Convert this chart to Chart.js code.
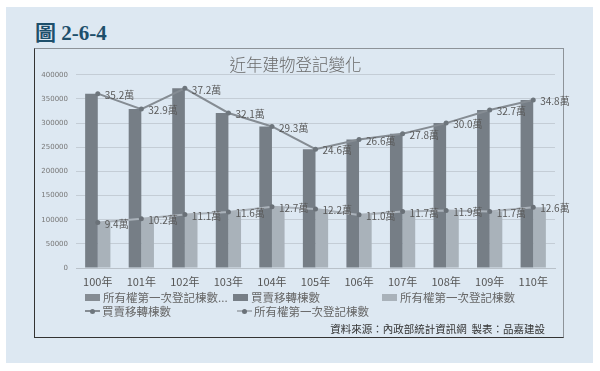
<!DOCTYPE html>
<html><head><meta charset="utf-8">
<script src="https://cdn.jsdelivr.net/npm/chart.js@4"></script>
<style>
html,body{margin:0;padding:0;background:#fff;width:600px;height:371px;overflow:hidden;font-family:"Noto Sans CJK TC","Noto Sans",sans-serif;}
#panel{position:absolute;left:6px;top:7px;width:587px;height:356px;background:#dde8f2;}
#fig{position:absolute;left:35px;top:16px;font-weight:bold;font-size:21px;font-family:"Liberation Serif","Noto Sans CJK TC",serif;color:#1e4f6b;white-space:nowrap;}
#frame{position:absolute;left:34px;top:48px;width:528px;height:288px;border:1px solid #333;border-top-color:#8d9399;border-right-color:#8d9399;}
#wrap{position:absolute;left:0;top:0;width:600px;height:371px;}
.lg{position:absolute;font-size:11.5px;color:#666;white-space:nowrap;line-height:14px;display:flex;align-items:center;}
.sw{display:inline-block;width:15px;height:7px;margin-right:3px;}
.lm{display:inline-block;position:relative;width:15px;height:8px;margin-right:2px;}
.lm .ln{position:absolute;left:0;right:0;top:3px;height:2px;}
.lm .dt{position:absolute;left:5px;top:1.5px;width:5px;height:5px;border-radius:50%;}
#src{position:absolute;right:55px;top:321px;font-size:10.5px;color:#333;white-space:nowrap;}
</style></head>
<body>
<div id="panel"></div>
<div id="fig">圖 2-6-4</div>
<div id="frame"></div>
<div id="wrap"><canvas id="c" width="600" height="371"></canvas></div>
<div id="legend"></div>
<div id="src">資料來源：內政部統計資訊網&nbsp;&nbsp;製表：品嘉建設</div>
<script>
const categories = ['100年','101年','102年','103年','104年','105年','106年','107年','108年','109年','110年'];
const buySell = [361000,329000,372000,321000,293000,246000,266000,278000,300000,327000,348000];
const firstReg = [94000,102000,111000,116000,127000,122000,110000,117000,119000,117000,126000];
const emptySeries = [null,null,null,null,null,null,null,null,null,null,null];
const buySellLabels = ['35.2萬','32.9萬','37.2萬','32.1萬','29.3萬','24.6萬','26.6萬','27.8萬','30.0萬','32.7萬','34.8萬'];
const firstRegLabels = ['9.4萬','10.2萬','11.1萬','11.6萬','12.7萬','12.2萬','11.0萬','11.7萬','11.9萬','11.7萬','12.6萬'];
const yTicks = [0,50000,100000,150000,200000,250000,300000,350000,400000];

const labelPlugin = {
  id:'pointLabels',
  afterDatasetsDraw(chart){
    const ctx = chart.ctx;
    [[3,buySellLabels],[4,firstRegLabels]].forEach(([di,labels])=>{
      const meta = chart.getDatasetMeta(di);
      ctx.save();
      ctx.font = '10px "Noto Sans CJK TC", sans-serif';
      ctx.fillStyle = '#595959';
      ctx.textBaseline = 'middle';
      ctx.textAlign = 'left';
      meta.data.forEach((pt,i)=>ctx.fillText(labels[i], pt.x+7, pt.y+1.5));
      ctx.restore();
    });
  }
};

const datasets = [
  {type:'bar', label:'所有權第一次登記棟數...', data:emptySeries, backgroundColor:'#858c93', order:3},
  {type:'bar', label:'買賣移轉棟數', data:buySell, backgroundColor:'#767e86', order:3},
  {type:'bar', label:'所有權第一次登記棟數', data:firstReg, backgroundColor:'#a9b2ba', order:3},
  {type:'line', label:'買賣移轉棟數', data:buySell, borderColor:'#858c93', borderWidth:2, pointRadius:2.5, pointBackgroundColor:'#6e767d', pointBorderWidth:0, order:1},
  {type:'line', label:'所有權第一次登記棟數', data:firstReg, borderColor:'#aab2ba', borderWidth:2, pointRadius:2.5, pointBackgroundColor:'#6a7178', pointBorderWidth:0, order:1}
];

new Chart(document.getElementById('c'), {
  data:{labels:categories, datasets},
  options:{
    responsive:false, animation:false, devicePixelRatio:1,
    skipNull:true,
    datasets:{bar:{categoryPercentage:0.58, barPercentage:1.0, skipNull:true}},
    layout:{padding:{left:36,right:45,top:55,bottom:81}},
    plugins:{
      legend:{display:false}, tooltip:{enabled:false},
      title:{display:true, text:'近年建物登記變化', color:'#6a6a6a', font:{size:16.5, family:'"Noto Sans CJK TC", sans-serif', weight:'300', lineHeight:1.2}, padding:{top:0,bottom:0}}
    },
    scales:{
      x:{
        grid:{display:false, drawTicks:false},
        border:{color:'#b9c1c9'},
        ticks:{color:'#555', font:{size:11, family:'"Noto Sans CJK TC", sans-serif'}, padding:7},
        afterFit(s){s.height=22;}
      },
      y:{
        min:0, max:400000,
        afterBuildTicks(s){s.ticks = yTicks.map(v=>({value:v}));},
        grid:{color:'#c4cdd6', drawTicks:false},
        border:{display:false},
        ticks:{color:'#777', font:{size:7, family:'"DejaVu Sans", sans-serif'}, padding:8, callback:(v)=>String(v)},
        afterFit(s){s.width=40;}
      }
    }
  },
  plugins:[labelPlugin]
});

// HTML legend built from the datasets
const slots = [[85,290],[233,290],[382,290],[85,304],[237,304]];
const lg = document.getElementById('legend');
datasets.forEach((d,i)=>{
  const el = document.createElement('div');
  el.className='lg';
  el.style.left = slots[i][0]+'px';
  el.style.top = slots[i][1]+'px';
  if(d.type==='bar'){
    el.innerHTML = '<span class="sw" style="background:'+d.backgroundColor+'"></span>';
  } else {
    el.innerHTML = '<span class="lm"><span class="ln" style="background:'+d.borderColor+'"></span><span class="dt" style="background:'+d.pointBackgroundColor+'"></span></span>';
  }
  const t = document.createElement('span'); t.textContent = d.label; el.appendChild(t);
  lg.appendChild(el);
});
</script>
</body></html>
